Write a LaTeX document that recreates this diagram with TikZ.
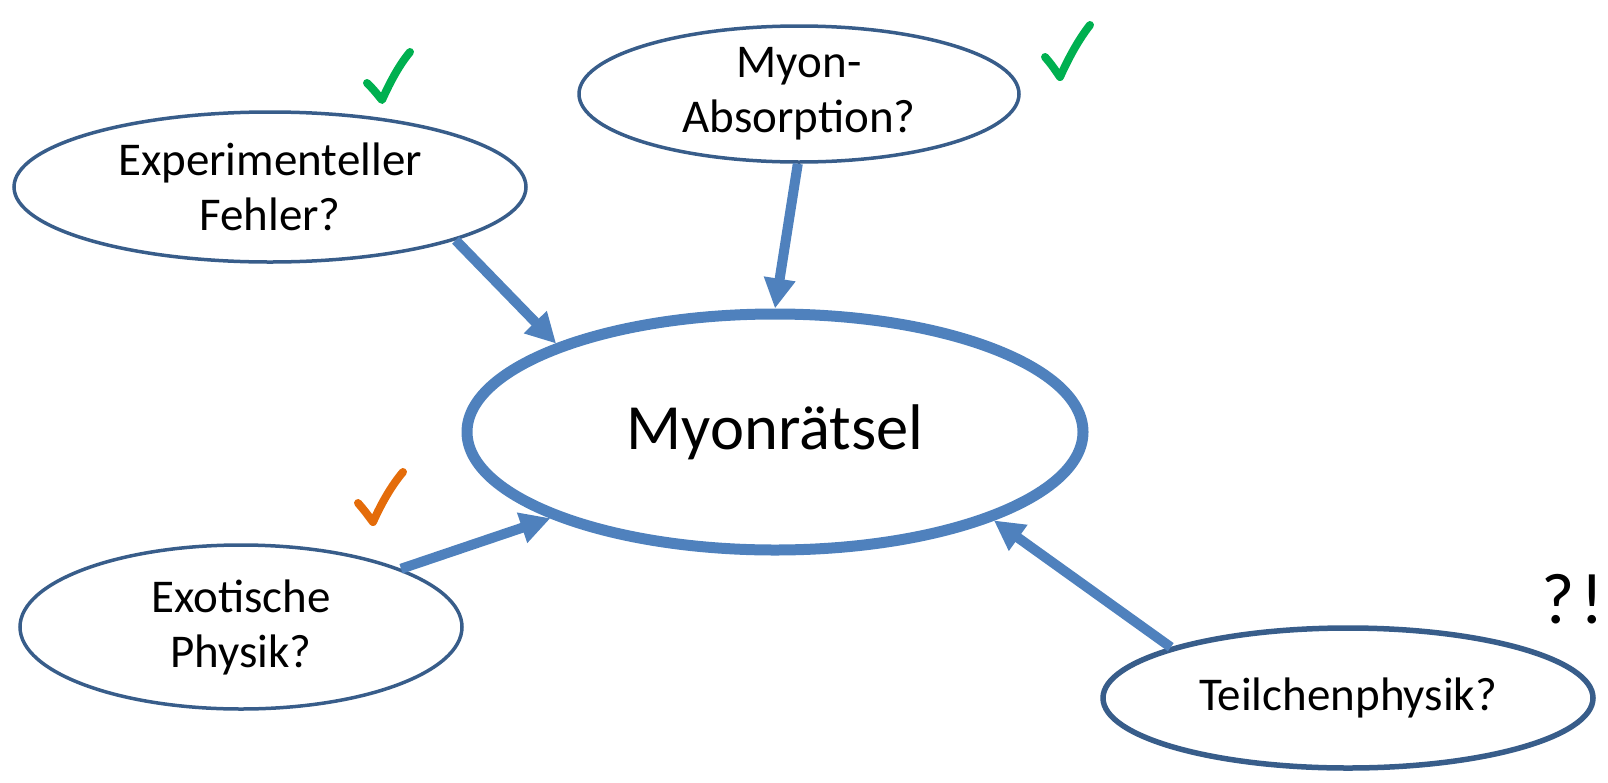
\documentclass[tikz,border=0pt]{standalone}
\usepackage{fontspec}
\setmainfont{Carlito}
\usepackage{xcolor}
\usetikzlibrary{arrows.meta, shapes.geometric}

\definecolor{puzzleblue}{HTML}{4F81BD}
\definecolor{rimblue}{HTML}{385D8A}
\definecolor{tickgreen}{HTML}{00B050}
\definecolor{tickorange}{HTML}{E46C0A}

\tikzset{
  idea/.style={ellipse, draw=rimblue, line width=3.5pt, inner sep=0pt, align=center,
    font=\fontsize{47}{55}\selectfont},
  puzzle/.style={ellipse, draw=puzzleblue, line width=11pt, inner sep=0pt,
    font=\fontsize{64.5}{70}\selectfont},
  link/.style={draw=puzzleblue, line width=10pt, -{Triangle[length=30pt,width=30pt]}},
  tick/.style={line width=8pt, line cap=round, line join=round}
}

\begin{document}
\begin{tikzpicture}[x=1pt, y=-1pt]
\useasboundingbox (0,0) rectangle (1608,782);

% Define nodes
\node[puzzle, minimum width=616pt, minimum height=236pt] (raetsel) at (775,432) {Myonrätsel};
\node[idea, minimum width=512pt, minimum height=150pt] (fehler) at (270,187) {Experimenteller\\Fehler?};
\node[idea, minimum width=440pt, minimum height=136pt] (absorption) at (799,94) {Myon-\\Absorption?};
\node[idea, minimum width=442pt, minimum height=164pt] (exotik) at (241,627) {Exotische\\Physik?};
\node[idea, line width=5.5pt, minimum width=490pt, minimum height=140pt] (teilchen) at (1348,698) {Teilchenphysik?};
\node[font=\fontsize{72}{80}\selectfont, inner sep=1pt] (frage) at (1573,599) {?\hspace{6pt}!};

% Arrows into the puzzle
\draw[link] (fehler.-16) -- (raetsel.158);
\draw[link] (absorption.-91) -- (raetsel.90);
\draw[link] (exotik.20) -- (raetsel.-159);
\draw[link] (teilchen.164) -- (raetsel.-22);

% Check marks
\draw[tick, tickgreen] (367,83) .. controls (373,89) .. (382,100) .. controls (391,80) and (400,64) .. (410,52);
\draw[tick, tickgreen] (1045,57) .. controls (1051,64) .. (1060,77) .. controls (1069,57) and (1079,39) .. (1090,25);
\draw[tick, tickorange] (358,503) .. controls (364,510) .. (373,522) .. controls (382,502) and (392,485) .. (403,472);

\end{tikzpicture}
\end{document}
